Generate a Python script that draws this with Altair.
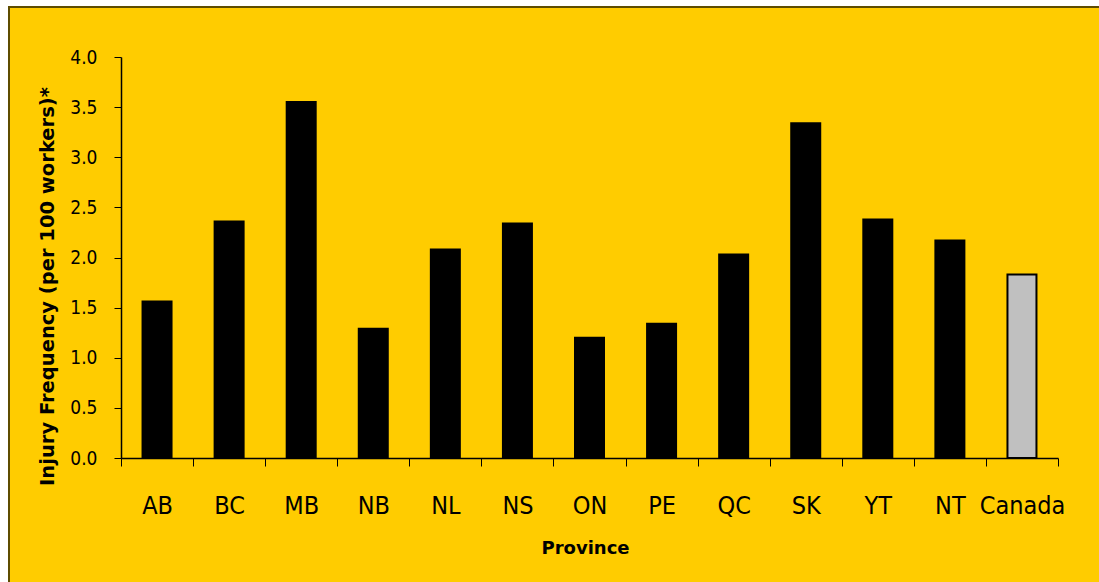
import altair as alt
import pandas as pd

provinces = ["AB", "BC", "MB", "NB", "NL", "NS", "ON", "PE", "QC", "SK", "YT", "NT", "Canada"]
frequency = [1.56, 2.36, 3.55, 1.29, 2.08, 2.34, 1.20, 1.34, 2.03, 3.34, 2.38, 2.17, 1.83]
kind = ["Province"] * 12 + ["Canada"]
y_ticks = [0.0, 0.5, 1.0, 1.5, 2.0, 2.5, 3.0, 3.5, 4.0]

df = pd.DataFrame({"Province": provinces, "Value": frequency, "Kind": kind})

W, H = 937, 401
PAD_L, PAD_T = 121, 57
CW, CH = 1099, 582

label_font = "DejaVu Sans Condensed, DejaVu Sans, sans-serif"
title_font = "DejaVu Sans, Verdana, sans-serif"
one = pd.DataFrame({"a": [0]})

panel = alt.Chart(one).mark_rect(fill="#FFCC00", strokeWidth=0).encode(
    x=alt.value(8 - PAD_L), x2=alt.value(CW - PAD_L + 40),
    y=alt.value(6 - PAD_T), y2=alt.value(CH - PAD_T + 40),
)
top_line = alt.Chart(one).mark_rule(color="#5E4C00", strokeWidth=2).encode(
    x=alt.value(8 - PAD_L), x2=alt.value(CW - PAD_L + 40),
    y=alt.value(7 - PAD_T),
)
left_line = alt.Chart(one).mark_rule(color="#5E4C00", strokeWidth=2).encode(
    x=alt.value(9 - PAD_L),
    y=alt.value(6 - PAD_T), y2=alt.value(CH - PAD_T + 40),
)

bars = alt.Chart(df).mark_bar(width=29, stroke="black", strokeWidth=2).encode(
    x=alt.X(
        "Province:N", sort=provinces,
        scale=alt.Scale(paddingInner=0, paddingOuter=0),
        axis=alt.Axis(
            title="Province", titleFont=title_font, titleFontSize=18, titleFontWeight="bold",
            titleColor="black", titleBaseline="alphabetic", titleX=464, titleY=95,
            labelFont=label_font, labelFontSize=25, labelColor="black", labelAngle=0,
            labelBaseline="alphabetic", labelPadding=47,
            tickBand="extent", tickSize=8, tickColor="black", tickWidth=1,
            domainColor="black", domainWidth=1.5, zindex=1,
        ),
    ),
    y=alt.Y(
        "Value:Q",
        scale=alt.Scale(domain=[0, 4], nice=False),
        axis=alt.Axis(
            values=y_ticks, format=".1f",
            title="Injury Frequency (per 100 workers)*", titleFont=title_font,
            titleFontSize=19.5, titleFontWeight="bold", titleColor="black",
            titleAngle=270, titleBaseline="middle", titleAlign="center",
            titleX=-74, titleY=229,
            labelFont=label_font, labelFontSize=19, labelColor="black", labelPadding=17,
            tickSize=7, tickColor="black", tickWidth=1, grid=False,
            domainColor="black", domainWidth=1.5, zindex=1,
        ),
    ),
    fill=alt.Fill(
        "Kind:N",
        scale=alt.Scale(domain=["Province", "Canada"], range=["#000000", "#C0C0C0"]),
        legend=None,
    ),
)

chart = alt.layer(panel, top_line, left_line, bars).properties(
    width=W, height=H,
    autosize=alt.AutoSizeParams(type="none"),
    padding={"left": PAD_L, "top": PAD_T, "right": CW - PAD_L - W, "bottom": CH - PAD_T - H},
    background="white",
).configure_view(stroke=None)

chart.save("out.html", embed_options={"renderer": "svg", "actions": False})
